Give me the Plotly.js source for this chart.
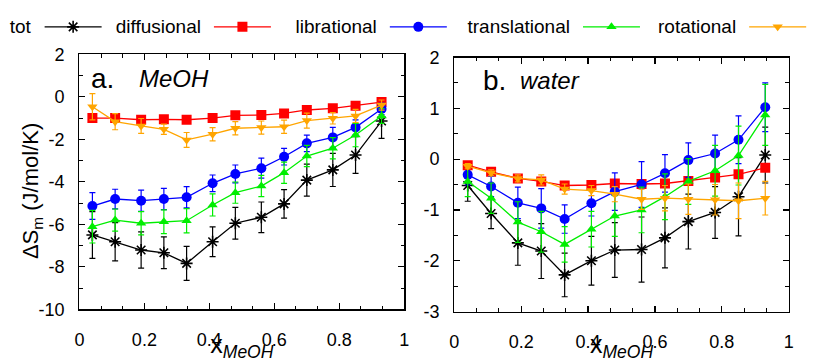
<!DOCTYPE html>
<html><head><meta charset="utf-8">
<script src="https://cdn.plot.ly/plotly-3.0.1.min.js"></script>
<style>html,body{margin:0;padding:0;background:#fff}#chart{width:817px;height:362px}</style>
</head><body><div id="chart"></div>
<script>
// ---- data ----
const xMeOH = [0.04, 0.11, 0.19, 0.26, 0.33, 0.41, 0.48, 0.56, 0.63, 0.70, 0.78, 0.85, 0.93];
const seriesNames = ['tot', 'diffusional', 'librational', 'translational', 'rotational'];

// panel a: MeOH
const totA      = [-6.50, -6.82, -7.21, -7.34, -7.84, -6.82, -5.95, -5.67, -5.04, -3.92, -3.44, -2.74, -1.14];
const totAErr   = [1.10, 0.90, 0.85, 0.75, 0.80, 0.70, 0.75, 0.72, 0.67, 0.75, 0.78, 0.86, 0.82];
const diffA     = [-1.00, -1.00, -1.08, -1.06, -1.08, -1.00, -0.87, -0.86, -0.78, -0.62, -0.54, -0.42, -0.25];
const diffAErr  = [0.08, 0.08, 0.08, 0.08, 0.08, 0.08, 0.08, 0.08, 0.08, 0.08, 0.08, 0.08, 0.08];
const libA      = [-5.14, -4.81, -4.89, -4.81, -4.73, -4.07, -3.63, -3.36, -2.82, -2.19, -1.91, -1.44, -0.57];
const libAErr   = [0.63, 0.46, 0.50, 0.50, 0.50, 0.39, 0.42, 0.47, 0.39, 0.39, 0.47, 0.35, 0.27];
const transA    = [-6.11, -5.80, -5.95, -5.88, -5.83, -5.09, -4.51, -4.20, -3.57, -2.79, -2.42, -1.80, -0.90];
const transAErr = [0.77, 0.52, 0.55, 0.56, 0.57, 0.52, 0.50, 0.50, 0.50, 0.50, 0.50, 0.55, 0.35];
const rotA      = [-0.47, -1.17, -1.37, -1.53, -2.03, -1.76, -1.48, -1.45, -1.41, -1.12, -1.01, -0.90, -0.39];
const rotAErr   = [0.62, 0.38, 0.35, 0.24, 0.35, 0.31, 0.31, 0.31, 0.31, 0.35, 0.27, 0.31, 0.24];

// panel b: water
const totB      = [-0.52, -1.07, -1.65, -1.81, -2.28, -2.00, -1.79, -1.78, -1.55, -1.23, -1.05, -0.74, 0.08];
const totBErr   = [0.31, 0.30, 0.44, 0.54, 0.43, 0.48, 0.54, 0.64, 0.59, 0.54, 0.51, 0.77, 0.55];
const diffB     = [-0.12, -0.25, -0.38, -0.44, -0.52, -0.51, -0.48, -0.49, -0.48, -0.43, -0.36, -0.30, -0.17];
const diffBErr  = [0.05, 0.05, 0.05, 0.05, 0.05, 0.05, 0.05, 0.05, 0.05, 0.05, 0.05, 0.05, 0.05];
const libB      = [-0.31, -0.54, -0.86, -0.97, -1.18, -0.87, -0.64, -0.50, -0.28, -0.02, 0.11, 0.38, 1.02];
const libBErr   = [0.20, 0.20, 0.31, 0.39, 0.28, 0.25, 0.37, 0.45, 0.37, 0.34, 0.36, 0.47, 0.48];
const transB    = [-0.44, -0.77, -1.24, -1.43, -1.68, -1.38, -1.12, -1.00, -0.74, -0.44, -0.23, 0.07, 0.87];
const transBErr = [0.30, 0.30, 0.40, 0.40, 0.35, 0.35, 0.40, 0.45, 0.45, 0.45, 0.50, 0.58, 0.60];
const rotB      = [-0.14, -0.27, -0.38, -0.41, -0.59, -0.62, -0.69, -0.79, -0.77, -0.79, -0.80, -0.82, -0.77];
const rotBErr   = [0.05, 0.06, 0.07, 0.10, 0.10, 0.10, 0.15, 0.20, 0.25, 0.30, 0.30, 0.35, 0.33];

// tick labels
const xTickVals = [0, 0.2, 0.4, 0.6, 0.8, 1];
const xTickText = ['0', '0.2', '0.4', '0.6', '0.8', '1'];
const yATickVals = [-10, -8, -6, -4, -2, 0, 2];
const yATickText = ['-10', '-8', '-6', '-4', '-2', '0', '2'];
const yBTickVals = [-3, -2, -1, 0, 1, 2];
const yBTickText = ['-3', '-2', '-1', '0', '1', '2'];

// ---- styling ----
const W = 817, H = 362;
const FONT = 'Liberation Sans, Arial, Helvetica, sans-serif';
const colors = ['#000000', '#ff0000', '#0000ff', '#00ee00', '#ffa500'];
const symbols = ['asterisk-open', 'square', 'circle', 'triangle-up', 'triangle-down'];
const sizes = [10, 10, 10, 9, 9];
const panelA = [[totA, totAErr], [diffA, diffAErr], [libA, libAErr], [transA, transAErr], [rotA, rotAErr]];
const panelB = [[totB, totBErr], [diffB, diffBErr], [libB, libBErr], [transB, transBErr], [rotB, rotBErr]];
const legendKeys = ['legend', 'legend2', 'legend3', 'legend4', 'legend5'];
const legendTextX = [8, 117, 302, 479, 675];

function mkTrace(i, ys, errs, xa, ya, inLegend) {
  return {
    type: 'scatter', mode: 'lines+markers', x: xMeOH, y: ys,
    xaxis: xa, yaxis: ya, name: '',
    legend: legendKeys[i], showlegend: inLegend,
    line: {color: colors[i], width: 1.3},
    marker: {symbol: symbols[i], size: sizes[i], color: colors[i],
             line: {color: colors[i], width: i === 0 ? 1.6 : 0}},
    error_y: {type: 'data', array: errs, visible: true, color: colors[i], thickness: 1.2, width: 3}
  };
}
const traces = [];
panelA.forEach((s, i) => traces.push(mkTrace(i, s[0], s[1], 'x', 'y', true)));
panelB.forEach((s, i) => traces.push(mkTrace(i, s[0], s[1], 'x2', 'y2', false)));

function minorOpts(d) {
  return {ticks: 'inside', ticklen: 3.5, tickwidth: 1, tickcolor: '#000', showgrid: false, dtick: d, tick0: 0};
}
function axis(extra) {
  return Object.assign({
    showline: true, linecolor: '#000', linewidth: 1.3, mirror: 'ticks',
    ticks: 'inside', ticklen: 6, tickwidth: 1.2, tickcolor: '#000',
    showgrid: false, zeroline: false, automargin: false,
    tickfont: {family: FONT, size: 18, color: '#000'},
    ticklabelstandoff: 10
  }, extra);
}
const xTitle = {text: 'x<sub><i>MeOH</i></sub>', font: {family: FONT, size: 25, color: '#000'}, standoff: 8};

const layout = {
  width: W, height: H, margin: {l: 0, r: 0, t: 0, b: 0},
  paper_bgcolor: '#fff', plot_bgcolor: '#fff',
  font: {family: FONT, color: '#000'},
  xaxis: axis({domain: [81.7 / W, 416 / W], range: [0, 1], anchor: 'y',
    tickmode: 'array', tickvals: xTickVals, ticktext: xTickText,
    minor: minorOpts(1 / 15), ticklabelstandoff: 14, title: xTitle}),
  yaxis: axis({domain: [1 - 309.3 / H, 1 - 54.3 / H], range: [-10, 2], anchor: 'x',
    tickmode: 'array', tickvals: yATickVals, ticktext: yATickText,
    minor: minorOpts(1)}),
  xaxis2: axis({domain: [467.5 / W, 811.5 / W], range: [0, 1], anchor: 'y2',
    tickmode: 'array', tickvals: xTickVals, ticktext: xTickText,
    minor: minorOpts(1 / 15), ticklabelstandoff: 14, title: xTitle}),
  yaxis2: axis({domain: [1 - 311.5 / H, 1 - 57.5 / H], range: [-3, 2], anchor: 'x2',
    tickmode: 'array', tickvals: yBTickVals, ticktext: yBTickText,
    minor: minorOpts(0.5)}),
  annotations: [
    {text: '\u0394S<sub>m</sub> (J/mol/K)', textangle: -90, xref: 'paper', yref: 'paper', x: 33 / W, y: 1 - 191 / H,
     xanchor: 'center', yanchor: 'middle', showarrow: false, font: {family: FONT, size: 22, color: '#000'}},
    {text: 'a.', xref: 'paper', yref: 'paper', x: 92 / W, y: 1 - 79 / H, xanchor: 'left', yanchor: 'middle', showarrow: false, font: {family: FONT, size: 28, color: '#000'}},
    {text: '<i>MeOH</i>', xref: 'paper', yref: 'paper', x: 141 / W, y: 1 - 79 / H, xanchor: 'left', yanchor: 'middle', showarrow: false, font: {family: FONT, size: 24, color: '#000'}},
    {text: 'b.', xref: 'paper', yref: 'paper', x: 495 / W, y: 1 - 80 / H, xanchor: 'left', yanchor: 'middle', showarrow: false, font: {family: FONT, size: 28, color: '#000'}},
    {text: '<i>water</i>', xref: 'paper', yref: 'paper', x: 533 / W, y: 1 - 80 / H, xanchor: 'left', yanchor: 'middle', showarrow: false, font: {family: FONT, size: 24, color: '#000'}}
  ]
};
legendKeys.forEach((k, i) => {
  layout[k] = {
    x: legendTextX[i] / W, xanchor: 'left', y: 1 - 8 / H, yanchor: 'top', orientation: 'h',
    bgcolor: 'rgba(0,0,0,0)', borderwidth: 0, itemwidth: 57,
    font: {family: FONT, size: 19, color: '#000'},
    title: {text: seriesNames[i], side: 'left', font: {family: FONT, size: 19, color: '#000'}}
  };
});

Plotly.newPlot('chart', traces, layout, {staticPlot: true, displayModeBar: false});
</script>
</body></html>
